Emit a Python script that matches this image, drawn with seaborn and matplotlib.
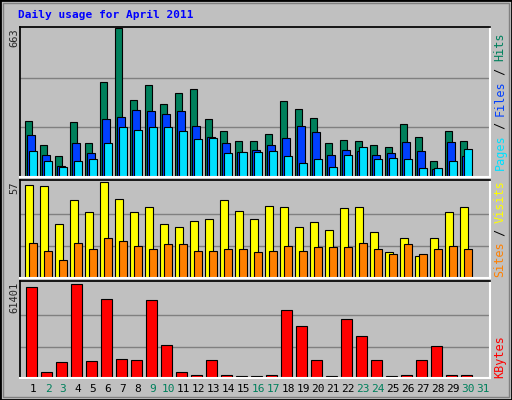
import numpy as np
import matplotlib
matplotlib.use("Agg")
import matplotlib.pyplot as plt
import seaborn as sns

sns.set_theme(style="white")
plt.rcParams['font.family'] = ['DejaVu Sans Mono', 'DejaVu Sans']

days = list(range(1, 31))
hits = [248, 144, 95, 244, 153, 424, 663, 343, 410, 325, 374, 392, 257, 207, 162,
        162, 194, 338, 302, 262, 153, 167, 162, 144, 135, 235, 180, 72, 207, 162]
files = [189, 99, 50, 153, 108, 257, 266, 298, 293, 280, 293, 226, 180, 153, 113,
         122, 144, 176, 226, 203, 99, 122, 117, 99, 108, 158, 117, 36, 158, 95]
pages = [117, 72, 45, 72, 81, 153, 221, 212, 221, 221, 207, 171, 176, 108, 113,
         113, 117, 95, 63, 81, 45, 99, 135, 81, 86, 81, 41, 41, 72, 126]
visits = [55, 54.5, 32, 46, 39, 57, 47, 39, 42, 32, 30, 34, 35, 46, 40,
          35, 43, 42, 30, 33, 28.5, 41.5, 42, 27, 15.5, 24, 13, 23.5, 39, 42]
sites = [21, 16, 10.5, 21, 17, 24, 22, 19, 17, 20, 20, 16, 16, 17, 17,
         15.5, 16, 19, 16, 18.5, 18.5, 18.5, 21, 17, 14, 20, 14, 17, 19, 17]
kbytes = [59375, 4050, 10120, 61401, 10800, 51280, 12150, 11470, 50600, 21590, 4050, 2020, 11470, 2020, 1350,
          1350, 2020, 44530, 33740, 11470, 1350, 38460, 27660, 11470, 1350, 2020, 11470, 20920, 2020, 2020]
day_labels = [str(d) for d in range(1, 32)]
weekends = {2, 3, 9, 10, 16, 17, 23, 24, 30, 31}

BG = "#c0c0c0"
W, H = 512, 400
fig = plt.figure(figsize=(W / 100, H / 100), dpi=100, facecolor=BG)
x = np.array(days, dtype=float)


def panel(top, bottom):
    ax = fig.add_axes([20 / W, 1 - bottom / H, 470 / W, (bottom - top) / H])
    ax.set_facecolor(BG)
    ax.set_xlim(0.667, 32)
    ax.set_xticks([])
    ax.set_yticks([])
    for s in ["top", "left"]:
        ax.spines[s].set_color("#000000")
    for s in ["bottom", "right"]:
        ax.spines[s].set_color("#ffffff")
        ax.spines[s].set_linewidth(1.5)
    return ax


def grid(ax, vmax):
    for f in (1 / 3, 2 / 3):
        ax.axhline(vmax * f, color="#808080", lw=1, zorder=0)


kw = dict(align="edge", edgecolor="black", linewidth=0.8)

ax1 = panel(27, 177)
ax1.set_ylim(0, max(hits) * 1.01)
grid(ax1, max(hits))
ax1.bar(x + 0.02, hits, width=0.47, color="#00805c", **kw)
ax1.bar(x + 0.15, files, width=0.49, color="#0040ff", **kw)
ax1.bar(x + 0.29, pages, width=0.49, color="#00e0ff", **kw)

ax2 = panel(180, 278)
ax2.set_ylim(0, max(visits) * 1.02)
grid(ax2, max(visits))
ax2.bar(x + 0.02, visits, width=0.53, color="#ffff00", **kw)
ax2.bar(x + 0.29, sites, width=0.49, color="#ff8000", **kw)

ax3 = panel(281, 378)
ax3.set_ylim(0, max(kbytes) * 1.03)
grid(ax3, max(kbytes))
ax3.bar(x + 0.09, kbytes, width=0.69, color="#ff0000", **kw)

# day labels
for i, lab in enumerate(day_labels):
    d = i + 1
    px = 25 + 15 * (d - 1) + 8
    fig.text(px / W, 1 - 389 / H, lab, ha="center", va="center", fontsize=8,
             color="#00805c" if d in weekends else "#000000")

# max labels
for txt, ytop in [("663", 28), ("57", 181), ("61401", 282)]:
    fig.text(14 / W, 1 - ytop / H, txt, rotation=90, ha="center", va="top", fontsize=7.5)


def side(parts, ybottom):
    y = ybottom
    for t, c in parts:
        fig.text(500 / W, 1 - y / H, t, rotation=90, ha="center", va="bottom",
                 fontsize=8.5, color=c)
        y -= 6.8 * len(t)


side([("Pages", "#00e0ff"), (" / ", "#000000"), ("Files", "#0040ff"), (" / ", "#000000"), ("Hits", "#00805c")], 170)
side([("Sites", "#ff8000"), (" / ", "#000000"), ("Visits", "#ffff00")], 277)
side([("KBytes", "#ff0000")], 378)

fig.text(18 / W, 1 - 15 / H, "Daily usage for April 2011", fontsize=8, fontweight="bold",
         color="#0000ff", va="center", ha="left")

# outer border
fig.add_artist(plt.Rectangle((0, 0), 1, 1, transform=fig.transFigure, fill=False,
                             edgecolor="black", linewidth=2))
fig.add_artist(plt.Rectangle((3 / W, 3 / H), 1 - 6 / W, 1 - 6 / H, transform=fig.transFigure,
                             fill=False, edgecolor="#808080", linewidth=1))

fig.savefig("out.png", dpi=100, facecolor=BG)
